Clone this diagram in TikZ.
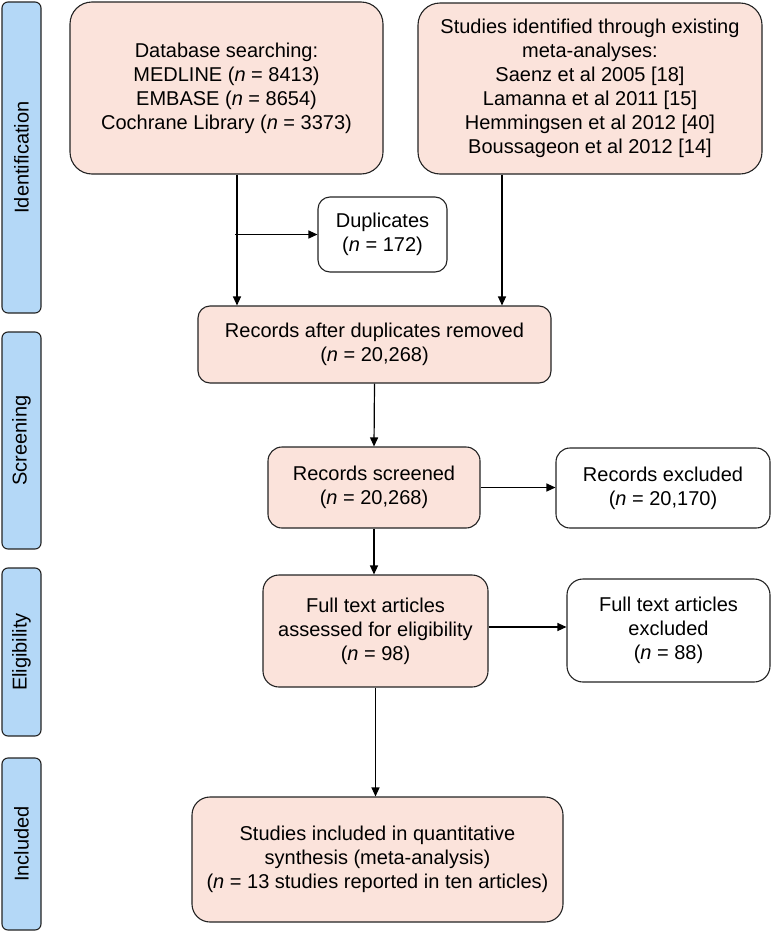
\documentclass[tikz,border=0pt]{standalone}
\usepackage{fontspec}
\setmainfont{Liberation Sans}
\usetikzlibrary{arrows.meta,calc}
\definecolor{pinkfill}{RGB}{251,227,219}
\definecolor{bluefill}{RGB}{180,216,247}
\definecolor{edge}{RGB}{35,35,35}
\begin{document}
\begin{tikzpicture}[x=1pt,y=-1pt,
  txt/.style={font=\fontsize{20}{24}\selectfont, align=center, text=black},
  pbox/.style={txt, draw=edge, line width=1.1pt, fill=pinkfill, rounded corners=#1, inner sep=0pt},
  pbox/.default=14pt,
  wbox/.style={txt, draw=edge, line width=1.1pt, fill=white, rounded corners=#1, inner sep=0pt},
  wbox/.default=14pt,
  side/.style={draw=edge, line width=1.1pt, fill=bluefill, rounded corners=6pt, inner sep=0pt,
     minimum width=39pt},
  sidelbl/.style={rotate=90, font=\fontsize{20}{24}\selectfont},
  arr/.style={draw=black, line width=1.2pt, -{Triangle[length=9pt,width=8pt]}}
]
\useasboundingbox (0,0) rectangle (776,932);

% side bars
\node[side, minimum height=311pt] (sid) at (21.5,157.5) {};
\node[sidelbl] at (sid.center) {Identification};
\node[side, minimum height=217pt] (sscr) at (21.5,440.5) {};
\node[sidelbl] at (sscr.center) {Screening};
\node[side, minimum height=168pt] (selig) at (21.5,652) {};
\node[sidelbl] at (selig.center) {Eligibility};
\node[side, minimum height=172pt] (sinc) at (21.5,844) {};
\node[sidelbl] at (sinc.center) {Included};

% boxes
\node[pbox=22pt, minimum width=313pt, minimum height=172pt] (db) at (226.5,88)
  {Database searching:\\ MEDLINE (\textit{n} = 8413)\\ EMBASE (\textit{n} = 8654)\\ Cochrane Library (\textit{n} = 3373)};
\node[pbox=22pt, minimum width=344pt, minimum height=171pt] (meta) at (590,88.5)
  {Studies identified through existing\\ meta-analyses:\\ Saenz et al 2005 [18]\\ Lamanna et al 2011 [15]\\ Hemmingsen et al 2012 [40]\\ Boussageon et al 2012 [14]};
\node[wbox=12pt, minimum width=129pt, minimum height=75pt] (dup) at (382.5,234.5)
  {Duplicates\\ (\textit{n} = 172)};
\node[pbox=12pt, minimum width=353pt, minimum height=77pt] (rad) at (374.5,344.5)
  {Records after duplicates removed\\ (\textit{n} = 20,268)};
\node[pbox=14pt, minimum width=212pt, minimum height=81pt] (scr) at (374,487.5)
  {Records screened\\ (\textit{n} = 20,268)};
\node[wbox=14pt, minimum width=214pt, minimum height=80pt] (exc) at (663,488)
  {Records excluded\\ (\textit{n} = 20,170)};
\node[pbox=16pt, minimum width=225pt, minimum height=112pt] (ft) at (375.5,631)
  {Full text articles\\ assessed for eligibility\\ (\textit{n} = 98)};
\node[wbox=16pt, minimum width=203pt, minimum height=103pt] (ftx) at (668.5,630.5)
  {Full text articles\\ excluded\\ (\textit{n} = 88)};
\node[pbox=18pt, minimum width=371pt, minimum height=125pt] (inc) at (377.5,859.5)
  {Studies included in quantitative\\ synthesis (meta-analysis)\\ (\textit{n} = 13 studies reported in ten articles)};

% connectors
\coordinate (dbout) at ([xshift=10.5pt]db.south);
\coordinate (metaout) at ([xshift=-88pt]meta.south);
\draw[arr] (dbout) -- (dbout |- rad.north);
\draw[arr] (metaout) -- (metaout |- rad.north);
\coordinate (split) at ($(dbout |- dup.west)+(-2,0)$);
\draw[arr] (split) -- (dup.west);
\draw[arr] (rad.south) -- (scr.north);
\draw[arr] (scr.east) -- (exc.west |- scr.east);
\draw[arr] (scr.south) -- (ft.north -| scr.south);
\coordinate (ftout) at ([yshift=4pt]ft.east);
\draw[arr] (ftout) -- (ftx.west |- ftout);
\draw[arr] (ft.south) -- (inc.north -| ft.south);
\end{tikzpicture}
\end{document}
